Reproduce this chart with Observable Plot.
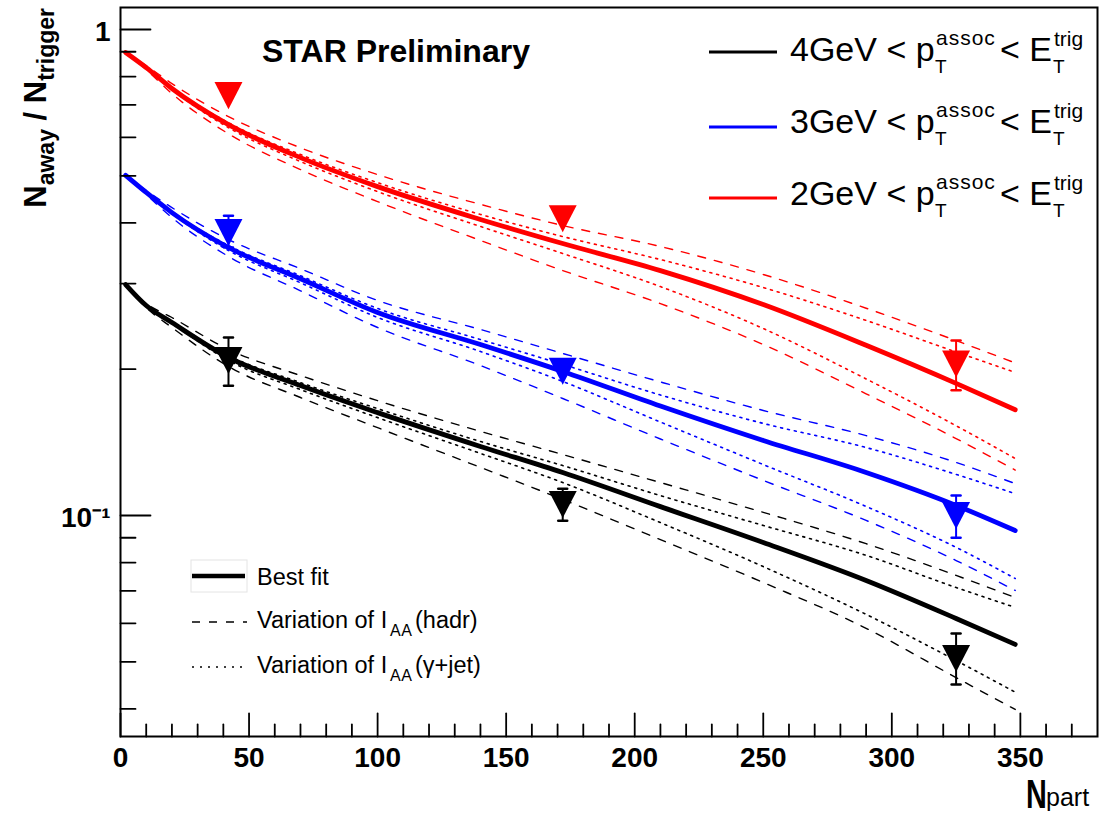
<!DOCTYPE html>
<html><head><meta charset="utf-8">
<script src="https://cdn.jsdelivr.net/npm/d3@7"></script>
<script src="https://cdn.jsdelivr.net/npm/@observablehq/plot@0.6"></script>
<style>html,body{margin:0;padding:0;background:#fff;} svg{display:block}</style>
</head><body><div id="chart"></div>
<script>
// ---- data ----
const npart = [2, 10, 20, 42, 70, 100, 140, 172, 210, 250, 290, 325, 348];

const bestBlack   = [0.2987, 0.2704, 0.2495, 0.2114, 0.1851, 0.1628, 0.1387, 0.1226, 0.1043, 0.0880, 0.0735, 0.0614, 0.0543];
const dashHiBlack = [0.2987, 0.2730, 0.2555, 0.2196, 0.1941, 0.1723, 0.1490, 0.1335, 0.1169, 0.1015, 0.0875, 0.0753, 0.0678];
const dashLoBlack = [0.2987, 0.2679, 0.2437, 0.2026, 0.1749, 0.1516, 0.1256, 0.1079, 0.0892, 0.0728, 0.0586, 0.0464, 0.0399];
const dotHiBlack  = [0.2987, 0.2717, 0.2507, 0.2134, 0.1877, 0.1659, 0.1420, 0.1267, 0.1099, 0.0954, 0.0828, 0.0711, 0.0647];
const dotLoBlack  = [0.2987, 0.2691, 0.2483, 0.2084, 0.1816, 0.1590, 0.1342, 0.1169, 0.0967, 0.0785, 0.0626, 0.0503, 0.0433];

const bestBlue    = [0.501, 0.462, 0.420, 0.356, 0.307, 0.2617, 0.2248, 0.1979, 0.168, 0.1427, 0.1226, 0.1049, 0.0931];
const dashHiBlue  = [0.501, 0.4664, 0.4301, 0.3697, 0.3219, 0.2770, 0.2414, 0.2155, 0.1883, 0.1645, 0.1460, 0.1286, 0.1163];
const dashLoBlue  = [0.501, 0.4577, 0.4102, 0.3412, 0.2900, 0.2437, 0.2035, 0.1741, 0.1437, 0.1181, 0.0977, 0.0808, 0.0701];
const dotHiBlue   = [0.501, 0.4642, 0.4220, 0.3594, 0.3114, 0.2667, 0.2302, 0.2046, 0.1770, 0.1547, 0.1380, 0.1215, 0.1109];
const dotLoBlue   = [0.501, 0.4598, 0.4180, 0.3510, 0.3012, 0.2556, 0.2175, 0.1887, 0.1557, 0.1273, 0.1044, 0.0860, 0.0742];

const bestRed     = [0.897, 0.835, 0.756, 0.637, 0.545, 0.475, 0.4066, 0.3628, 0.3191, 0.2717, 0.224, 0.187, 0.165];
const dashHiRed   = [0.897, 0.843, 0.774, 0.662, 0.571, 0.5028, 0.4367, 0.3951, 0.3577, 0.3133, 0.267, 0.229, 0.206];
const dashLoRed   = [0.897, 0.827, 0.738, 0.610, 0.515, 0.4424, 0.3681, 0.3192, 0.2729, 0.2248, 0.178, 0.144, 0.124];
const dotHiRed    = [0.897, 0.839, 0.760, 0.643, 0.553, 0.4840, 0.4164, 0.3750, 0.3362, 0.2945, 0.252, 0.217, 0.197];
const dotLoRed    = [0.897, 0.831, 0.752, 0.628, 0.535, 0.4639, 0.3933, 0.3460, 0.2958, 0.2425, 0.191, 0.153, 0.131];

// measured points (N_part, value, error low, error high)
const pointN     = [42, 172, 325];
const ptBlack    = [0.2084, 0.1054, 0.0508];
const errLoBlack = [0.185, 0.0975, 0.0449];
const errHiBlack = [0.2324, 0.1135, 0.0572];
const ptBlue     = [0.382, 0.198, 0.100];
const errLoBlue  = [0.356, 0.198, 0.090];
const errHiBlue  = [0.414, 0.198, 0.110];
const ptRed      = [0.731, 0.408, 0.205];
const errLoRed   = [0.731, 0.408, 0.181];
const errHiRed   = [0.731, 0.408, 0.229];

// axis ticks
const xMajorTicks = [0, 50, 100, 150, 200, 250, 300, 350];
const xMinorTicks = [10,20,30,40,60,70,80,90,110,120,130,140,160,170,180,190,210,220,230,240,260,270,280,290,310,320,330,340,360,370];
const yMajorTicks = [1, 0.1];
const yMinorTicks = [0.04,0.05,0.06,0.07,0.08,0.09,0.2,0.3,0.4,0.5,0.6,0.7,0.8,0.9];
const xDomain = [0, 380];
const yDomain = [0.0351, 1.1098];

// ---- build ----
const FONT = "'Liberation Sans', Arial, Helvetica, sans-serif";
const series = [
  {color: "#000000", best: bestBlack, dashHi: dashHiBlack, dashLo: dashLoBlack, dotHi: dotHiBlack, dotLo: dotLoBlack, pt: ptBlack, lo: errLoBlack, hi: errHiBlack},
  {color: "#0000ff", best: bestBlue, dashHi: dashHiBlue, dashLo: dashLoBlue, dotHi: dotHiBlue, dotLo: dotLoBlue, pt: ptBlue, lo: errLoBlue, hi: errHiBlue},
  {color: "#ff0000", best: bestRed, dashHi: dashHiRed, dashLo: dashLoRed, dotHi: dotHiRed, dotLo: dotLoRed, pt: ptRed, lo: errLoRed, hi: errHiRed}
];
const toRows = vals => npart.map((n, i) => ({n, v: vals[i]}));

const tickLine = {draw(ctx, l) { ctx.moveTo(0, 0); ctx.lineTo(0, -l); }};
const triDown = {draw(ctx, size) {
  const r = Math.sqrt(size / Math.PI), w = 1.27 * r, h = 1.23 * r;
  ctx.moveTo(-w, -h); ctx.lineTo(w, -h); ctx.lineTo(0, h); ctx.closePath();
}};

const marks = [];
for (const s of series) {
  for (const key of ["dashHi", "dashLo"]) {
    marks.push(Plot.line(toRows(s[key]), {x: "n", y: "v", stroke: s.color, strokeWidth: 1.4, strokeDasharray: "8 9", curve: "monotone-x"}));
  }
  for (const key of ["dotHi", "dotLo"]) {
    marks.push(Plot.line(toRows(s[key]), {x: "n", y: "v", stroke: s.color, strokeWidth: 1.6, strokeDasharray: "2 5", curve: "monotone-x"}));
  }
}
for (const s of series) {
  marks.push(Plot.line(toRows(s.best), {x: "n", y: "v", stroke: s.color, strokeWidth: 4.8, curve: "monotone-x"}));
}
for (const s of series) {
  const pts = pointN.map((n, i) => ({n, v: s.pt[i], lo: s.lo[i], hi: s.hi[i]}));
  const err = pts.filter(d => d.hi > d.lo);
  marks.push(Plot.ruleX(err, {x: "n", y1: "lo", y2: "hi", stroke: s.color, strokeWidth: 2}));
  marks.push(Plot.vector(err, {x: "n", y: "hi", length: 9, rotate: 90, anchor: "middle", shape: tickLine, stroke: s.color, strokeWidth: 2.5}));
  marks.push(Plot.vector(err, {x: "n", y: "lo", length: 9, rotate: 90, anchor: "middle", shape: tickLine, stroke: s.color, strokeWidth: 2.5}));
  marks.push(Plot.dot(pts, {x: "n", y: "v", symbol: triDown, r: 11, fill: s.color, stroke: "none"}));
}
// inward ticks
marks.push(Plot.vector(xMajorTicks, {x: d => d, y: yDomain[0], length: 23, rotate: 0, anchor: "start", shape: tickLine, stroke: "#000", strokeWidth: 1.8}));
marks.push(Plot.vector(xMinorTicks, {x: d => d, y: yDomain[0], length: 12, rotate: 0, anchor: "start", shape: tickLine, stroke: "#000", strokeWidth: 1.8}));
marks.push(Plot.vector(yMajorTicks, {x: xDomain[0], y: d => d, length: 30, rotate: 90, anchor: "start", shape: tickLine, stroke: "#000", strokeWidth: 1.8}));
marks.push(Plot.vector(yMinorTicks, {x: xDomain[0], y: d => d, length: 15, rotate: 90, anchor: "start", shape: tickLine, stroke: "#000", strokeWidth: 1.8}));
marks.push(Plot.axisX(xMajorTicks, {tickSize: 0, tickPadding: 11, fontSize: 28, fontWeight: "bold", tickFormat: d => String(d), label: null}));
marks.push(Plot.axisY(yMajorTicks, {tickSize: 0, tickPadding: 10, fontSize: 28, fontWeight: "bold", tickFormat: d => d === 1 ? "1" : "10\u207B\u00B9", label: null, dy: 3}));
marks.push(Plot.frame({stroke: "#000", strokeWidth: 2}));

const chart = Plot.plot({
  width: 1107, height: 814,
  marginLeft: 120, marginRight: 10, marginTop: 7, marginBottom: 78,
  style: {fontFamily: FONT, background: "#fff", color: "#000", overflow: "visible"},
  x: {domain: xDomain, label: null},
  y: {type: "log", domain: yDomain, label: null},
  marks
});
document.getElementById("chart").appendChild(chart);

// ---- annotations ----
const svg = d3.select(chart);
function rich(parts, attrs = {}) {
  const t = svg.append("text").attr("font-family", FONT).attr("fill", "#000").attr("text-anchor", "start");
  for (const [k, v] of Object.entries(attrs)) t.attr(k, v);
  for (const p of parts) {
    const ts = t.append("tspan").text(p.text).attr("font-size", p.size).attr("font-weight", p.weight || "normal");
    if (p.x != null) ts.attr("x", p.x);
    if (p.y != null) ts.attr("y", p.y);
    if (p.dy != null) ts.attr("dy", p.dy);
    if (p.ls != null) ts.attr("letter-spacing", p.ls);
  }
  return t;
}
// Y title
rich([
  {text: "N", size: 31, weight: "bold"},
  {text: "away", size: 23, weight: "bold", dy: 8},
  {text: " / N", size: 31, weight: "bold", dy: -8},
  {text: "trigger", size: 23, weight: "bold", dy: 8}
], {transform: "translate(46,8) rotate(-90)", "text-anchor": "end"});
// X title
rich([{text: "N", size: 40, weight: "bold", x: 0, y: 0}], {transform: "translate(1026,808) scale(0.72,1)"});
rich([{text: "part", size: 25, x: 1046, y: 806}]);
// STAR Preliminary
rich([{text: "STAR Preliminary", size: 32, weight: "bold", x: 262, y: 62}]);

// top-right legend
const legRows = [
  {label: "4GeV < p", color: "#000000", ly: 52, b: 61},
  {label: "3GeV < p", color: "#0000ff", ly: 127, b: 133},
  {label: "2GeV < p", color: "#ff0000", ly: 198, b: 205}
];
for (const r of legRows) {
  svg.append("line").attr("x1", 709).attr("x2", 777).attr("y1", r.ly).attr("y2", r.ly).attr("stroke", r.color).attr("stroke-width", 3);
  rich([
    {text: r.label, size: 34, x: 790, y: r.b},
    {text: "assoc", size: 21, x: 936, y: r.b - 16, ls: 1},
    {text: "T", size: 19, x: 935, y: r.b + 12},
    {text: "< E", size: 34, x: 1000, y: r.b},
    {text: "trig", size: 21, x: 1054, y: r.b - 15},
    {text: "T", size: 19, x: 1053, y: r.b + 12}
  ]);
}

// bottom-left legend
svg.append("rect").attr("x", 191).attr("y", 560).attr("width", 56).attr("height", 32).attr("fill", "none").attr("stroke", "#e4e4e4").attr("stroke-width", 1);
svg.append("line").attr("x1", 192).attr("x2", 245).attr("y1", 576).attr("y2", 576).attr("stroke", "#000").attr("stroke-width", 4.5);
svg.append("line").attr("x1", 192).attr("x2", 247).attr("y1", 622).attr("y2", 622).attr("stroke", "#000").attr("stroke-width", 1.4).attr("stroke-dasharray", "8 9");
svg.append("line").attr("x1", 192).attr("x2", 243).attr("y1", 667).attr("y2", 667).attr("stroke", "#000").attr("stroke-width", 1.6).attr("stroke-dasharray", "2 6");
rich([{text: "Best fit", size: 23.5, x: 257, y: 585}]);
rich([{text: "Variation of I", size: 23.5, x: 257, y: 628}, {text: "AA", size: 16, x: 390, y: 636, ls: 0.5}, {text: "(hadr)", size: 23.5, x: 415, y: 628}]);
rich([{text: "Variation of I", size: 23.5, x: 257, y: 673}, {text: "AA", size: 16, x: 390, y: 681, ls: 0.5}, {text: "(\u03B3+jet)", size: 23.5, x: 415, y: 673}]);
</script>
</body></html>
